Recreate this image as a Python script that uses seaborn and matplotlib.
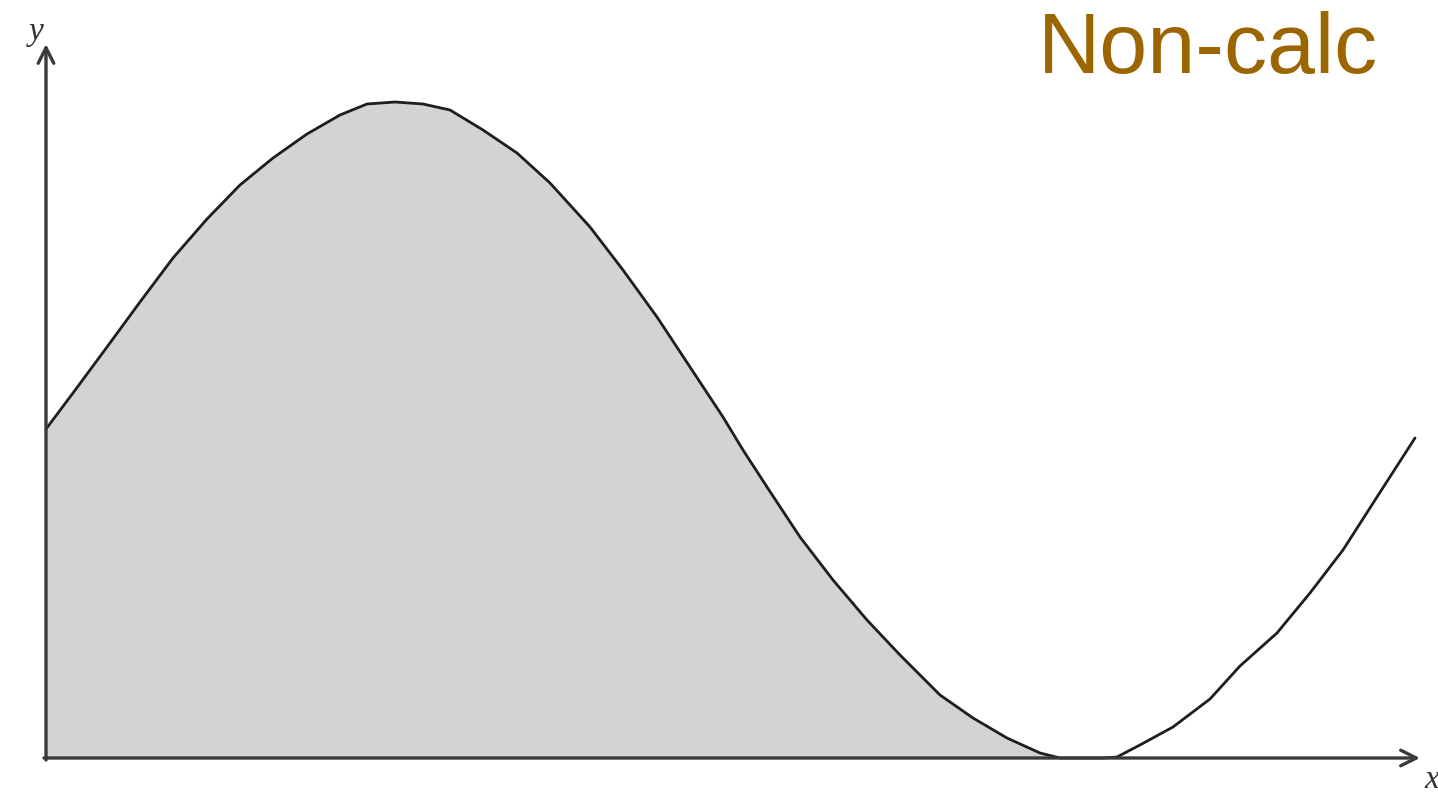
import numpy as np
import pandas as pd
import seaborn as sns
import matplotlib
matplotlib.use("Agg")
import matplotlib.pyplot as plt

# Curve (x to the right of the y-axis, y above the x-axis)
curve_x = [0, 27, 61, 94, 127, 161, 194, 227, 261, 294, 321, 349, 377, 404, 437,
           471, 504, 544, 577, 611, 644, 677, 697, 721, 754, 787, 821, 854, 894,
           927, 961, 994, 1014, 1037, 1057, 1071, 1094, 1127, 1164, 1194, 1231,
           1264, 1297, 1331, 1369]
curve_y = [329, 365, 411, 456, 500, 539, 573, 600, 624, 643, 654, 656, 654, 648, 628,
           605, 575, 531, 488, 441, 391, 341, 308, 271, 221, 178, 138, 103, 63,
           40, 20, 5, 0, 0, 0, 1, 13, 31, 59, 92, 125,
           165, 208, 261, 320]
shade_end = 1037
title_text = "Non-calc"
x_label = "x"
y_label = "y"

sns.set_style("white")

df = pd.DataFrame({"x": curve_x, "y": curve_y})

fig = plt.figure(figsize=(14.38, 7.98), dpi=100)
ax = fig.add_axes([0, 0, 1, 1])
ax.set_xlim(-46, 1392)
ax.set_ylim(-40, 758)
ax.axis("off")

shade = df[df["x"] <= shade_end]
ax.fill_between(shade["x"], 0, shade["y"], color="#d3d3d3", lw=0, zorder=1)

sns.lineplot(data=df, x="x", y="y", sort=False, color="#1e1e1e", linewidth=2.0,
             ax=ax, zorder=3, solid_joinstyle="round", solid_capstyle="round")

# axes with arrows
axis_color = "#3a3a3a"
ax.annotate("", xy=(1374, 0), xytext=(-2, 0),
            arrowprops=dict(arrowstyle="->", lw=2.4, color=axis_color,
                            mutation_scale=28, shrinkA=0, shrinkB=0), zorder=4)
ax.annotate("", xy=(0, 714), xytext=(0, -2),
            arrowprops=dict(arrowstyle="->", lw=2.4, color=axis_color,
                            mutation_scale=28, shrinkA=0, shrinkB=0), zorder=4)

ax.text(-10, 726, y_label, fontsize=24, fontstyle="italic", family="Liberation Serif",
        color="#333333", ha="center", va="center")
ax.text(1386, -22, x_label, fontsize=24, fontstyle="italic", family="Liberation Serif",
        color="#333333", ha="center", va="center")

fig.text(1378 / 1438, 1 - 73 / 798, title_text, fontsize=62, color="#9b6500",
         family="Liberation Sans", ha="right", va="baseline")

fig.savefig("out.png", dpi=100, facecolor="white")
